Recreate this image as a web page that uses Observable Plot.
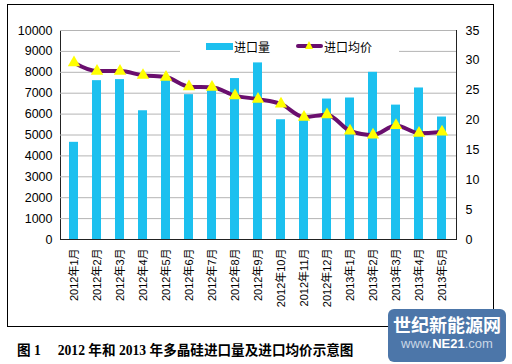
<!DOCTYPE html>
<html>
<head>
<meta charset="utf-8">
<script src="https://cdn.jsdelivr.net/npm/d3@7"></script>
<script src="https://cdn.jsdelivr.net/npm/@observablehq/plot@0.6"></script>
<style>
  html, body { margin: 0; padding: 0; background: #fff; }
  #wrap { position: relative; width: 512px; height: 364px; overflow: hidden; font-family: "Liberation Sans", Arial, "Noto Sans CJK SC", sans-serif; }
  #frame { position: absolute; left: 7px; top: 4px; width: 487px; height: 323px; border: 1px solid #000; box-sizing: border-box; }
  #chart { position: absolute; left: 0; top: 0; }
  #legend { position: absolute; left: 180px; top: 38px; width: 219px; height: 20px; background: #fff; font-size: 12px; font-family: "Noto Sans CJK SC", sans-serif; color: #000; }
  #legend .sw1 { position: absolute; left: 26px; top: 5px; width: 27px; height: 7px; background: #1cc0ef; }
  #legend .t1 { position: absolute; left: 54px; top: 0px; line-height: 17px; }
  #legend .sw2 { position: absolute; left: 116px; top: 6px; width: 27px; height: 4px; background: #6a0f6e; border-radius: 2px; }
  #legend .tri { position: absolute; left: 125px; top: 3px; width: 0; height: 0; border-left: 4.5px solid transparent; border-right: 4.5px solid transparent; border-bottom: 8px solid #ffff00; }
  #legend .t2 { position: absolute; left: 144px; top: 0px; line-height: 17px; }
  #caption { position: absolute; left: 17px; top: 339px; font-size: 13.6px; font-weight: bold; font-family: "Liberation Serif", "Noto Sans CJK SC", serif; white-space: pre; color: #000; }
  #wm { position: absolute; left: 388px; top: 309px; width: 118px; height: 53px; background: #4c76a9; border-radius: 6px; color: #fff; text-align: center; }
  #wm .a { font-family: "Noto Sans CJK SC", sans-serif; font-weight: bold; font-size: 18px; line-height: 22px; margin-top: 4px; letter-spacing: 0px; }
  #wm .b { font-family: "Liberation Sans", Arial, sans-serif; font-size: 13px; line-height: 18px; color: #c9d6e6; }
  #wm .b b { color: #fff; }
</style>
</head>
<body>
<div id="wrap">
  <div id="frame"></div>
  <div id="chart"></div>
  <div id="legend">
    <div class="sw1"></div><div class="t1">进口量</div>
    <div class="sw2"></div><div class="tri"></div><div class="t2">进口均价</div>
  </div>
  <div id="caption">图 1　 2012 年和 2013 年多晶硅进口量及进口均价示意图</div>
  <div id="wm"><div class="a">世纪新能源网</div><div class="b">www.<b>NE21</b>.com</div></div>
</div>
<script>
const months = ["2012年1月","2012年2月","2012年3月","2012年4月","2012年5月","2012年6月","2012年7月","2012年8月","2012年9月","2012年10月","2012年11月","2012年12月","2013年1月","2013年2月","2013年3月","2013年4月","2013年5月"];
const volume = [4650, 7600, 7650, 6160, 7700, 6930, 7150, 7700, 8450, 5730, 5800, 6720, 6770, 8000, 6430, 7250, 5860];
const price = [29.6, 28.2, 28.2, 27.5, 27.2, 25.6, 25.5, 24.1, 23.5, 22.7, 20.5, 20.9, 18.2, 17.5, 19.1, 17.8, 18.0];
const leftTicks = [0,1000,2000,3000,4000,5000,6000,7000,8000,9000,10000];
const rightTicks = [0,5,10,15,20,25,30,35];

const leftMax = 10000, rightMax = 35;
const k = leftMax / rightMax;
const rows = months.map((m, i) => ({m, v: volume[i], p: price[i] * k}));

const chart = Plot.plot({
  width: 512,
  height: 330,
  marginLeft: 60,
  marginRight: 56,
  marginTop: 30,
  marginBottom: 91,
  style: {fontFamily: "'Liberation Sans', Arial, 'Noto Sans CJK SC', sans-serif", fontSize: "12px", color: "#000", background: "transparent"},
  x: {domain: months, paddingInner: 0.6, paddingOuter: 0.3, label: null},
  y: {domain: [0, leftMax], label: null},
  marks: [
    Plot.frame({stroke: "#222"}),
    Plot.ruleY(leftTicks, {stroke: "#b4b4b4", strokeWidth: 1}),
    Plot.ruleY([0], {stroke: "#222"}),
    Plot.barY(rows, {x: "m", y: "v", fill: "#1cc0ef"}),
    Plot.line(rows, {x: "m", y: "p", stroke: "#6a0f6e", strokeWidth: 4, curve: "monotone-x"}),
    Plot.dot(rows, {x: "m", y: "p", symbol: "triangle", r: 4.6, fill: "#ffff00", stroke: "none"}),
    Plot.axisY(leftTicks, {anchor: "left", tickSize: 0, tickPadding: 8, fontSize: 12.5, label: null, tickFormat: d => String(d)}),
    Plot.axisY(rightTicks.map(d => d * k), {anchor: "right", tickSize: 0, tickPadding: 9, fontSize: 12.5, label: null, tickFormat: d => String(Math.round(d / k))}),
    Plot.axisX({tickRotate: -90, tickSize: 0, tickPadding: 9, fontSize: 11, label: null, fontFamily: "'Liberation Sans', Arial, 'Noto Sans CJK SC', sans-serif"})
  ]
});
document.getElementById("chart").appendChild(chart);
</script>
</body>
</html>
